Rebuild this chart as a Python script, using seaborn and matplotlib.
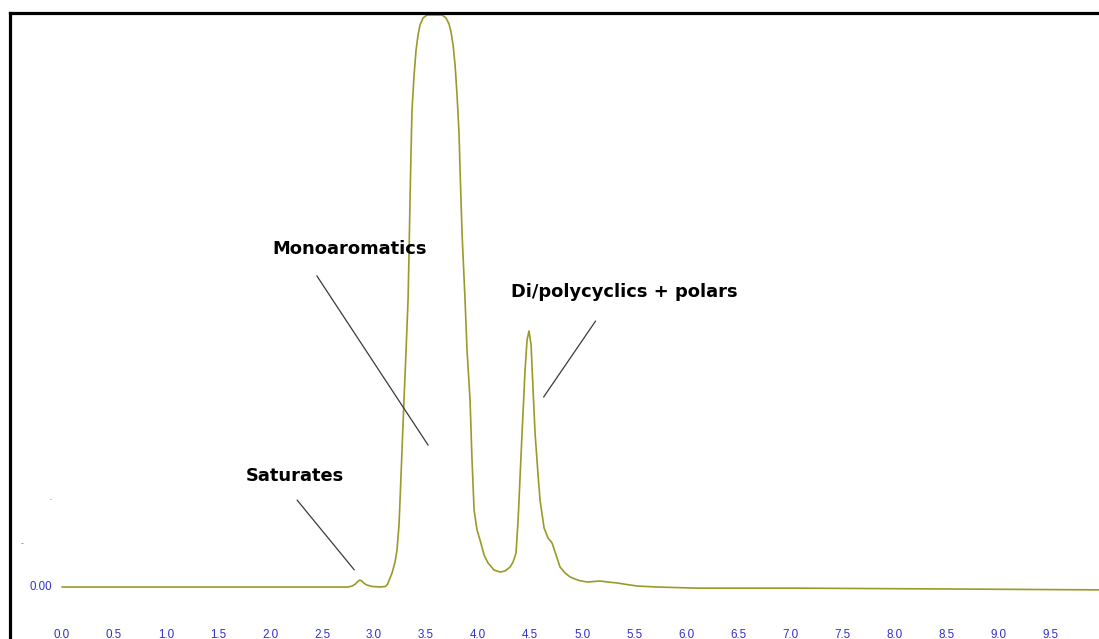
import pandas as pd
import seaborn as sns
from matplotlib import pyplot as plt

# retention time (min) and detector response
time_min = [
    0.0, 0.85, 2.29, 2.67, 2.75, 2.79, 2.82, 2.84, 2.86, 2.88, 2.90, 2.93,
    2.98, 3.06, 3.11, 3.13, 3.173, 3.202, 3.221, 3.240, 3.250, 3.269, 3.288,
    3.308, 3.327, 3.337, 3.346, 3.356, 3.365, 3.385, 3.404, 3.423, 3.442,
    3.471, 3.510, 3.654, 3.692, 3.721, 3.740, 3.760, 3.779, 3.798, 3.817,
    3.827, 3.846, 3.875, 3.894, 3.923, 3.942, 3.962, 3.990, 4.019, 4.058,
    4.096, 4.154, 4.212, 4.260, 4.308, 4.337, 4.365, 4.385, 4.394, 4.423,
    4.452, 4.471, 4.490, 4.510, 4.519, 4.548, 4.577, 4.596, 4.635, 4.673,
    4.712, 4.750, 4.788, 4.837, 4.885, 4.93, 4.98, 5.05, 5.11, 5.17, 5.25,
    5.34, 5.43, 5.53, 5.72, 6.11, 7.10, 8.54, 9.97,
]
response = [
    0.0, 0.0, 0.0, 0.0, 0.0, 0.17, 0.5, 0.9, 1.2, 1.1, 0.7, 0.35,
    0.1, 0.0, 0.1, 0.5, 2.45, 4.37, 6.47, 10.84, 15.21, 23.95, 32.69,
    41.43, 50.17, 58.92, 67.66, 76.40, 83.39, 89.51, 93.88, 96.50, 98.25,
    99.48, 100.0, 100.0, 99.48, 98.43, 97.03, 94.76, 91.26, 86.01, 79.37,
    72.90, 61.89, 50.17, 41.43, 32.69, 22.20, 13.46, 9.97, 8.22, 5.59,
    4.20, 2.97, 2.62, 2.80, 3.50, 4.37, 5.94, 11.71, 15.21, 26.92,
    37.94, 43.18, 44.76, 42.31, 38.46, 26.92, 19.58, 15.21, 10.31, 8.57,
    7.69, 5.59, 3.50, 2.45, 1.75, 1.4, 1.1, 0.87, 0.96, 1.05, 0.87,
    0.7, 0.44, 0.17, 0.0, -0.2, -0.2, -0.35, -0.5,
]
x_ticks = [0.0, 0.5, 1.0, 1.5, 2.0, 2.5, 3.0, 3.5, 4.0, 4.5,
           5.0, 5.5, 6.0, 6.5, 7.0, 7.5, 8.0, 8.5, 9.0, 9.5]

# peak labels: text, text position, leader line start/end
labels = ["Monoaromatics", "Di/polycyclics + polars", "Saturates"]
label_pos = [(2.77, 59.1), (5.41, 51.6), (2.24, 19.4)]
leaders = [((2.45, 54.4), (3.52, 24.8)),
           ((5.13, 46.5), (4.63, 33.2)),
           ((2.26, 15.2), (2.81, 3.0))]

df = pd.DataFrame({"time": time_min, "response": response})

sns.set_style("white")
plt.rcParams["font.family"] = ["Liberation Sans", "DejaVu Sans"]

fig = plt.figure(figsize=(10.99, 6.39), dpi=100)
ax = fig.add_axes([10 / 1099, 0, 1089 / 1099, 626 / 639])

sns.lineplot(data=df, x="time", y="response", ax=ax, sort=False,
             color="#9a9a28", linewidth=1.2)

ax.set_xlim(-0.5, 9.97)
ax.set_ylim(-9.09, 100.35)
ax.set_xlabel("")
ax.set_ylabel("")
ax.set_xticks([])
ax.set_yticks([])

for side in ["right", "bottom"]:
    ax.spines[side].set_visible(False)
for side in ["top", "left"]:
    ax.spines[side].set_color("black")
    ax.spines[side].set_linewidth(2.3)

blue = "#3232c8"
for t in x_ticks:
    ax.text(t, -8.4, f"{t:.1f}", ha="center", va="center",
            fontsize=8.4, color=blue)
ax.text(-0.096, 0.0, "0.00", ha="right", va="center", fontsize=8.3, color=blue)
# little stray marks left of the axis labels
ax.text(-0.115, 14.9, ".", ha="center", va="bottom", fontsize=5, color=blue)
ax.text(-0.38, 7.2, "..", ha="center", va="bottom", fontsize=5, color=blue)

for text, (tx, ty), ((x0, y0), (x1, y1)) in zip(labels, label_pos, leaders):
    ax.text(tx, ty, text, ha="center", va="center", fontsize=12.9,
            fontweight="heavy", family="DejaVu Sans", color="black")
    ax.plot([x0, x1], [y0, y1], color="#3a3a3a", linewidth=0.9)

fig.savefig("out.png", dpi=100, facecolor="white")
